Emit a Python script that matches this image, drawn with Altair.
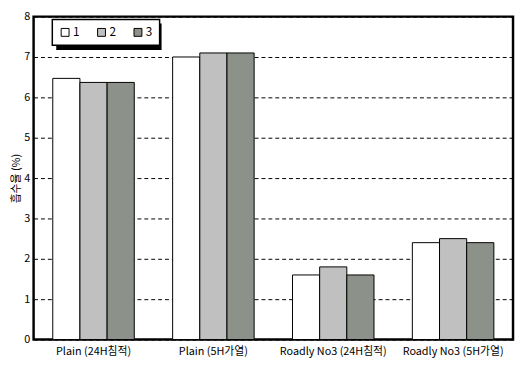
import altair as alt
import pandas as pd

categories = ["Plain (24H침적)", "Plain (5H가열)", "Roadly No3 (24H침적)", "Roadly No3 (5H가열)"]
series = ["1", "2", "3"]
values_1 = [6.47, 7.0, 1.6, 2.4]
values_2 = [6.37, 7.1, 1.8, 2.5]
values_3 = [6.37, 7.1, 1.6, 2.4]
y_ticks = [0, 1, 2, 3, 4, 5, 6, 7, 8]
colors = ["#FFFFFF", "#C0C0C0", "#8C9189"]

rows = []
for s, vals in zip(series, [values_1, values_2, values_3]):
    for c, v in zip(categories, vals):
        rows.append({"cat": c, "series": s, "value": v})
df = pd.DataFrame(rows)

FONT = "Noto Sans CJK KR"

bars = alt.Chart(df).mark_bar(stroke="black", strokeWidth=1).encode(
    x=alt.X("cat:N", sort=categories,
            scale=alt.Scale(paddingInner=0.32, paddingOuter=0.16),
            axis=alt.Axis(title=None, labelAngle=0, labelFontSize=11, labelFont=FONT,
                          labelColor="black", labelPadding=6, ticks=False, domain=False,
                          grid=False)),
    xOffset=alt.XOffset("series:N", sort=series, scale=alt.Scale(paddingInner=0, paddingOuter=0)),
    y=alt.Y("value:Q", scale=alt.Scale(domain=[0, 8], nice=False),
            axis=alt.Axis(title="흡수율 (%)", values=y_ticks, titleFont=FONT, titleFontSize=11,
                          titleFontWeight="normal", titleColor="black", titlePadding=2,
                          labelFont=FONT, labelFontSize=11, labelColor="black", labelPadding=4,
                          ticks=False, domain=False, grid=True, gridColor="black",
                          gridDash=[4, 3], gridWidth=1, gridOpacity=1)),
    fill=alt.Fill("series:N", sort=series, scale=alt.Scale(domain=series, range=colors),
                  legend=alt.Legend(title=None, orient="none", legendX=19, legendY=3,
                                    direction="horizontal", fillColor="white",
                                    strokeColor="black", padding=7, symbolType="square",
                                    symbolSize=64, symbolStrokeColor="black",
                                    symbolStrokeWidth=1, labelFontSize=12, labelFont=FONT,
                                    labelColor="black", columnPadding=16, labelOffset=2)),
)

shadow = alt.Chart(pd.DataFrame({"s": [0]})).mark_rect(color="black").encode(
    x=alt.value(23), x2=alt.value(130), y=alt.value(7), y2=alt.value(34)
)

chart = alt.layer(shadow, bars).properties(
    width=487, height=328, background="white",
    padding={"left": 2, "top": 0, "right": 2, "bottom": 0}
).configure_view(stroke="black", strokeWidth=2.5).configure_legend(strokeWidth=1.5)

chart.save("out.html", embed_options={"renderer": "svg", "actions": False})
